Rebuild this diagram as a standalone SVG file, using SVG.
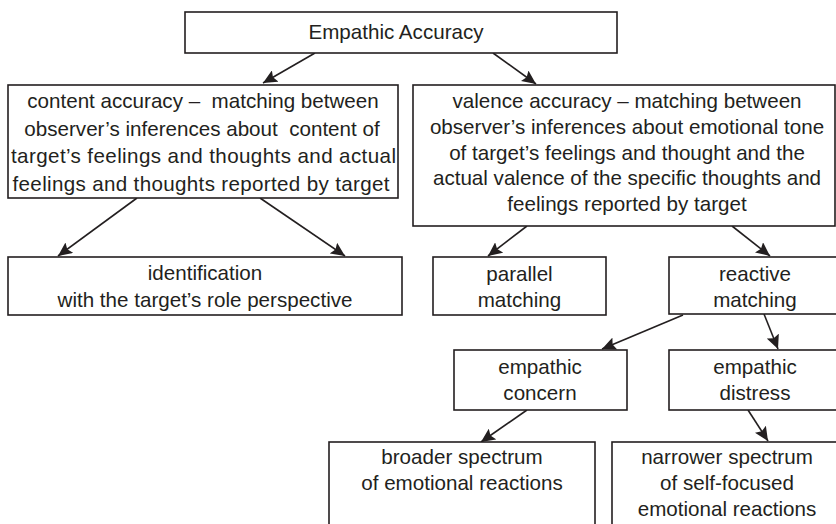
<svg xmlns="http://www.w3.org/2000/svg" width="836" height="524" viewBox="0 0 836 524">
<defs>
<marker id="ah" markerUnits="userSpaceOnUse" markerWidth="16" markerHeight="13" refX="14" refY="6.5" orient="auto">
<path d="M0,0 L14,6.5 L0,13 L2.5,6.5 z" fill="#231f20"/>
</marker>
<style>
rect{fill:#fff;stroke:#231f20;stroke-width:1.6}
text{font-family:"Liberation Sans",Arial,sans-serif;font-size:20.6px;fill:#231f20;text-anchor:middle}
#connectors line{stroke:#231f20;stroke-width:1.6;marker-end:url(#ah)}
</style>
</defs>
<rect x="0" y="0" width="836" height="524" style="fill:#fff;stroke:none"/>
<g id="connectors">
<line x1="315" y1="53" x2="263" y2="83"/>
<line x1="493" y1="53" x2="536" y2="84"/>
<line x1="137" y1="198" x2="58" y2="256"/>
<line x1="260" y1="198" x2="345" y2="256"/>
<line x1="527" y1="226" x2="488" y2="256"/>
<line x1="732" y1="226" x2="770" y2="256"/>
<line x1="683" y1="315" x2="602" y2="349"/>
<line x1="764" y1="314" x2="778" y2="349"/>
<line x1="527" y1="410" x2="481" y2="442"/>
<line x1="748" y1="410" x2="768" y2="441"/>
</g>
<g id="empathic-accuracy">
<rect x="185" y="12" width="432" height="41"/>
<text x="396" y="39">Empathic Accuracy</text>
</g>
<g id="content-accuracy">
<rect x="8" y="85" width="390" height="113"/>
<text x="203" y="108" xml:space="preserve">content accuracy –  matching between</text>
<text x="202" y="135.5" xml:space="preserve">observer’s inferences about  content of</text>
<text x="203.5" y="163" textLength="385" lengthAdjust="spacing">target’s feelings and thoughts and actual</text>
<text x="201" y="190.5" textLength="377" lengthAdjust="spacing">feelings and thoughts reported by target</text>
</g>
<g id="valence-accuracy">
<rect x="413" y="85" width="422" height="141"/>
<text x="627" y="108">valence accuracy – matching between</text>
<text x="627" y="134">observer’s inferences about emotional tone</text>
<text x="627" y="159.5">of target’s feelings and thought and the</text>
<text x="627" y="185">actual valence of the specific thoughts and</text>
<text x="627" y="210.5">feelings reported by target</text>
</g>
<g id="identification">
<rect x="8" y="257" width="394" height="58"/>
<text x="205" y="280">identification</text>
<text x="205" y="307">with the target’s role perspective</text>
</g>
<g id="parallel-matching">
<rect x="433" y="257" width="173" height="58"/>
<text x="519.5" y="281">parallel</text>
<text x="519.5" y="306.5">matching</text>
</g>
<g id="reactive-matching">
<rect x="669" y="257" width="175" height="57"/>
<text x="755" y="281">reactive</text>
<text x="755" y="306.5">matching</text>
</g>
<g id="empathic-concern">
<rect x="454" y="350" width="173" height="60"/>
<text x="540" y="374">empathic</text>
<text x="540" y="399.5">concern</text>
</g>
<g id="empathic-distress">
<rect x="669" y="350" width="175" height="60"/>
<text x="755" y="374">empathic</text>
<text x="755" y="399.5">distress</text>
</g>
<g id="broader-spectrum">
<rect x="329" y="442" width="266" height="90"/>
<text x="462" y="464">broader spectrum</text>
<text x="462" y="490">of emotional reactions</text>
</g>
<g id="narrower-spectrum">
<rect x="612" y="442" width="232" height="90"/>
<text x="727" y="464">narrower spectrum</text>
<text x="727" y="490">of self-focused</text>
<text x="727" y="516">emotional reactions</text>
</g>
</svg>
